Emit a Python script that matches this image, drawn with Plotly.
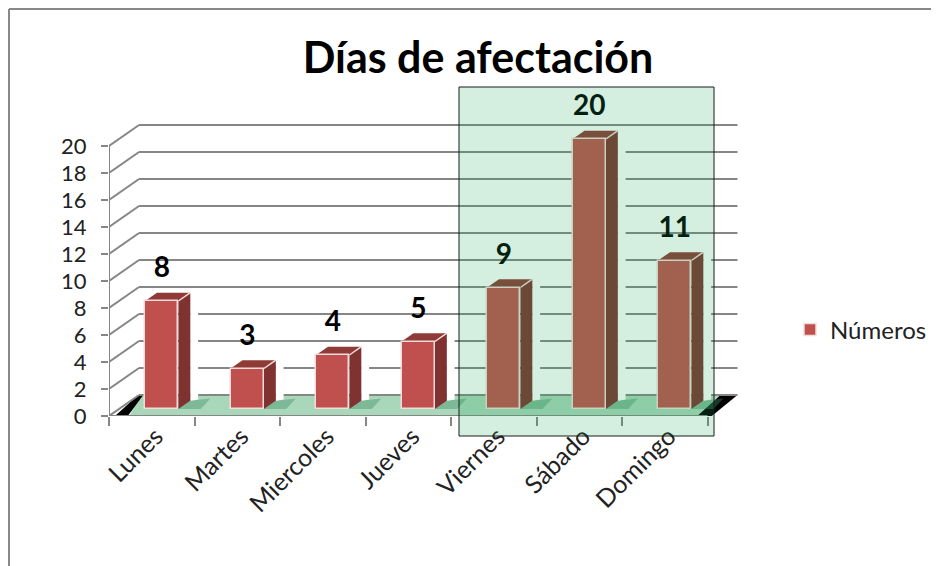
import plotly.graph_objects as go

categories = ["Lunes", "Martes", "Miercoles", "Jueves", "Viernes", "Sábado", "Domingo"]
values = [8, 3, 4, 5, 9, 20, 11]
y_ticks = list(range(0, 21, 2))
series_name = "Números"
title = "Días de afectación"

# pixel frame of the flat axes, in page pixels (the page has an 8px body margin)
PAGE = 8
W, H = 939 - PAGE, 566 - PAGE
L, R, T, B = 109, 939, 85, 416
PX_X = 85.5
PX_Y = 13.5
DX = 30 / PX_X      # depth of the chart, in x units
DY = 21 / PX_Y      # depth of the chart, in y units
F0, F1 = 1 / 3, 0.73  # bar front and back depth
BAR_W = 0.39
GRAY = "#868686"
FONT = "Lato"

x_idx = list(range(len(categories)))
x_range = [-0.5, -0.5 + (R - L) / PX_X]
y_range = [0, (B - T) / PX_Y]


def P(x, y, d=0.0):
    return x + d * DX, y + d * DY


def poly(points):
    return "M " + " L ".join(f"{a:.4f},{b:.4f}" for a, b in points) + " Z"


def px_x(p):
    return (p - L) / (R - L)


def px_y(p):
    return (B - p) / (B - T)


shapes = []


def add(points, fill, layer="below"):
    shapes.append(dict(type="path", path=poly(points), xref="x", yref="y", fillcolor=fill,
                       line=dict(width=0), layer=layer))


def seg(a, b, width=2):
    shapes.append(dict(type="line", xref="x", yref="y", x0=a[0], y0=a[1], x1=b[0], y1=b[1],
                       line=dict(color=GRAY, width=width), layer="below"))


# floor and its black ends
xa, xb = -0.5, len(categories) - 0.5
add([P(xa + 0.24, 0), P(xa + 0.02, 0, 1), P(xb - 0.21, 0, 1), P(xb - 0.12, 0)], "#a9d7b9")
add([P(xa + 0.07, 0), P(xa + 0.22, 0), P(xa + 0.05, 0, 1), P(xa - 0.01, 0, 1)], "#000000")
add([P(xb - 0.12, 0), P(xb + 0.05, 0), P(xb, 0, 1), P(xb - 0.2, 0, 1)], "#000000")

# grid: side wall and back wall
for t in y_ticks:
    seg(P(xa, t), P(xa, t, 1))
    seg(P(xa, t, 1), P(xb, t, 1))
seg(P(xa, 0), P(xa, y_ticks[-1]))
seg(P(xa - 7 / PX_X, 0), P(xb, 0))

# 3D faces of the bars, derived from the values
for i, v in zip(x_idx, values):
    a, b = i - BAR_W / 2, i + BAR_W / 2
    # floor shadow
    add([P(b, 0, F0), P(b + 0.26, 0, F0), P(b + 0.2, 0, F1 + 0.1), P(b, 0, F1)], "rgba(60,140,100,0.4)")
    # white halo on the wall
    add([P(b, 0, F1), P(b, v, F1), P(b, v, F1 + 0.06), P(b + 0.07, v, F1 + 0.06),
         P(b + 0.07, 0, F1 + 0.06)], "#ffffff")
    add([P(b, 0, F0), P(b, v, F0), P(b, v, F1), P(b, 0, F1)], "#7f3230")
    add([P(a, v, F0), P(b, v, F0), P(b, v, F1), P(a, v, F1)], "#8f3a37")
    shapes.append(dict(type="line", xref="x", yref="y", x0=P(b, v, F0)[0], y0=P(b, v, F0)[1],
                       x1=P(b, v, F1)[0], y1=P(b, v, F1)[1],
                       line=dict(color="#f2dcdb", width=1.5), layer="below"))

# highlighted band and the page frame
shapes.append(dict(type="rect", xref="paper", yref="paper", x0=px_x(459), x1=px_x(714),
                   y0=px_y(436), y1=px_y(87), fillcolor="rgba(24,170,87,0.19)",
                   line=dict(color="#1a1a1a", width=1), layer="above"))
shapes.append(dict(type="line", xref="paper", yref="paper", x0=px_x(9), x1=px_x(9),
                   y0=px_y(566), y1=px_y(9), line=dict(color="#888888", width=2)))
shapes.append(dict(type="line", xref="paper", yref="paper", x0=px_x(9), x1=px_x(939),
                   y0=px_y(9), y1=px_y(9), line=dict(color="#888888", width=2)))

fig = go.Figure()
bar_x = [P(i, 0, F0)[0] for i in x_idx]
fig.add_trace(go.Bar(
    x=bar_x, y=values, base=[F0 * DY] * len(values), width=BAR_W, name=series_name,
    marker=dict(color="#c0504d", line=dict(color="#f2dcdb", width=1.5)),
    showlegend=True,
))
fig.add_trace(go.Scatter(
    x=bar_x, y=[v + F0 * DY + 31 / PX_Y for v in values],
    mode="text", text=[str(v) for v in values], textposition="middle center",
    textfont=dict(family=FONT, size=28, color="#000000", weight="bold"),
    showlegend=False, cliponaxis=False, hoverinfo="skip",
))

fig.update_layout(
    width=W, height=H, autosize=False,
    margin=dict(l=L - PAGE, r=0, t=T - PAGE, b=H - (B - PAGE)),
    paper_bgcolor="#ffffff", plot_bgcolor="rgba(0,0,0,0)",
    font=dict(family=FONT, color="#222222"),
    title=dict(text=title, x=(478 - PAGE) / W, xanchor="center", y=1 - (58 - PAGE) / H, yanchor="middle",
               font=dict(family=FONT, size=43, color="#000000", weight="bold")),
    legend=dict(x=px_x(790), xanchor="left", y=px_y(330), yanchor="middle",
                font=dict(family=FONT, size=24, color="#222222"), bgcolor="rgba(0,0,0,0)",
                itemwidth=30),
    xaxis=dict(
        range=x_range, tickmode="array", tickvals=x_idx, ticktext=categories, tickangle=-45,
        ticks="", showgrid=False, zeroline=False, showline=False, ticklabelshift=4,
        tickfont=dict(family=FONT, size=25, color="#222222"),
        minor=dict(tickmode="array", tickvals=[i - 0.5 for i in range(len(categories) + 1)],
                   ticks="outside", ticklen=9, tickwidth=2, tickcolor=GRAY, showgrid=False),
    ),
    yaxis=dict(
        range=y_range, tickmode="array", tickvals=y_ticks, ticks="outside", ticklen=7,
        tickwidth=2, tickcolor=GRAY, showgrid=False, zeroline=False, showline=False,
        ticklabelstandoff=10,
        tickfont=dict(family=FONT, size=22, color="#222222"),
    ),
    shapes=shapes,
    bargap=0,
)

fig.write_html("out.html")
